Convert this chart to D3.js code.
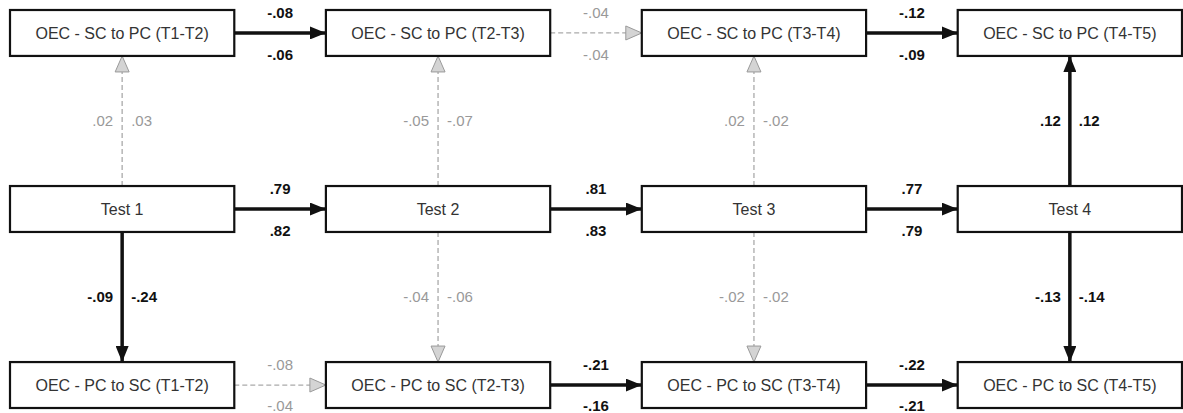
<!DOCTYPE html>
<html>
<head>
<meta charset="utf-8">
<script src="https://cdn.jsdelivr.net/npm/d3@7"></script>
<style>
  body { margin: 0; background: #fff; }
  text { font-family: "Liberation Sans", Arial, sans-serif; }
</style>
</head>
<body>
<div id="target"></div>
<script>
let width = 1183,
  height = 413

// waves / columns
let columns = ["T1", "T2", "T3", "T4"]
let rows = ["SC", "Test", "PC"]

let scLabels = ["OEC - SC to PC (T1-T2)", "OEC - SC to PC (T2-T3)", "OEC - SC to PC (T3-T4)", "OEC - SC to PC (T4-T5)"]
let testLabels = ["Test 1", "Test 2", "Test 3", "Test 4"]
let pcLabels = ["OEC - PC to SC (T1-T2)", "OEC - PC to SC (T2-T3)", "OEC - PC to SC (T3-T4)", "OEC - PC to SC (T4-T5)"]

// horizontal (autoregressive) paths: [upper value, lower value]
let scPaths = [[-.08, -.06], [-.04, -.04], [-.12, -.09]]
let scSig = [true, false, true]
let testPaths = [[.79, .82], [.81, .83], [.77, .79]]
let testSig = [true, true, true]
let pcPaths = [[-.08, -.04], [-.21, -.16], [-.22, -.21]]
let pcSig = [false, true, true]

// vertical paths: [left value, right value]
let upPaths = [[.02, .03], [-.05, -.07], [.02, -.02], [.12, .12]]
let upSig = [false, false, false, true]
let downPaths = [[-.09, -.24], [-.04, -.06], [-.02, -.02], [-.13, -.14]]
let downSig = [true, false, false, true]

let x = d3.scaleBand().domain(columns).range([10, 1182]).paddingInner(0.29)
let y = d3.scaleBand().domain(rows).range([10, 408]).paddingInner(0.739)

// ".08" style, plain hyphen for negatives
let fmt = v => d3.format(".2f")(v).replace("\u2212", "-").replace("0.", ".")

let svg = d3.select("#target").append("svg")
  .attr("width", width)
  .attr("height", height)

let defs = svg.append("defs")
defs.append("marker")
  .attr("id", "head-sig")
  .attr("markerUnits", "userSpaceOnUse")
  .attr("viewBox", "0 0 16 13")
  .attr("refX", 16).attr("refY", 6.5)
  .attr("markerWidth", 16).attr("markerHeight", 13)
  .attr("orient", "auto")
  .append("path")
  .attr("d", "M0,0L16,6.5L0,13Z")
  .attr("fill", "#111")
defs.append("marker")
  .attr("id", "head-ns")
  .attr("markerUnits", "userSpaceOnUse")
  .attr("viewBox", "-1 -1 18 16")
  .attr("refX", 16).attr("refY", 7)
  .attr("markerWidth", 18).attr("markerHeight", 16)
  .attr("orient", "auto")
  .append("path")
  .attr("d", "M0,0L16,7L0,14Z")
  .attr("fill", "#d4d4d4")
  .attr("stroke", "#999")
  .attr("stroke-width", 1)

let cx = c => x(c) + x.bandwidth() / 2
let cy = r => y(r) + y.bandwidth() / 2

function styleLine(sel, sig) {
  sel.attr("stroke", sig ? "#111" : "#aaa")
    .attr("stroke-width", sig ? 3.5 : 1.3)
    .attr("stroke-dasharray", sig ? null : "5,3")
    .attr("marker-end", sig ? "url(#head-sig)" : "url(#head-ns)")
}

function styleLabel(sel, sig) {
  sel.attr("fill", sig ? "#111" : "#999")
    .attr("font-weight", sig ? "bold" : "normal")
    .attr("font-size", "15px")
}

// horizontal arrows
let hData = []
;[["SC", scPaths, scSig], ["Test", testPaths, testSig], ["PC", pcPaths, pcSig]].forEach(([r, vals, sig]) => {
  vals.forEach((v, i) => hData.push({ row: r, from: columns[i], to: columns[i + 1], vals: v, sig: sig[i] }))
})

let hGroup = svg.append("g").attr("class", "h-paths")
hData.forEach(d => {
  let x1 = x(d.from) + x.bandwidth(),
    x2 = x(d.to),
    yy = cy(d.row),
    mx = (x1 + x2) / 2
  hGroup.append("line")
    .attr("x1", x1).attr("x2", x2)
    .attr("y1", yy).attr("y2", yy)
    .call(styleLine, d.sig)
  hGroup.append("text")
    .attr("x", mx).attr("y", yy - 15)
    .attr("text-anchor", "middle")
    .text(fmt(d.vals[0]))
    .call(styleLabel, d.sig)
  // keep the lower label inside the frame on the bottom row
  hGroup.append("text")
    .attr("x", mx).attr("y", Math.min(yy + 27, height - 2))
    .attr("text-anchor", "middle")
    .text(fmt(d.vals[1]))
    .call(styleLabel, d.sig)
})

// vertical arrows
let vGroup = svg.append("g").attr("class", "v-paths")
columns.forEach((c, i) => {
  let xx = cx(c)
  let specs = [
    { y1: y("Test"), y2: y("SC") + y.bandwidth(), vals: upPaths[i], sig: upSig[i] },
    { y1: y("Test") + y.bandwidth(), y2: y("PC"), vals: downPaths[i], sig: downSig[i] }
  ]
  specs.forEach(s => {
    let my = (s.y1 + s.y2) / 2
    vGroup.append("line")
      .attr("x1", xx).attr("x2", xx)
      .attr("y1", s.y1).attr("y2", s.y2)
      .call(styleLine, s.sig)
    vGroup.append("text")
      .attr("x", xx - 9).attr("y", my + 5)
      .attr("text-anchor", "end")
      .text(fmt(s.vals[0]))
      .call(styleLabel, s.sig)
    vGroup.append("text")
      .attr("x", xx + 9).attr("y", my + 5)
      .attr("text-anchor", "start")
      .text(fmt(s.vals[1]))
      .call(styleLabel, s.sig)
  })
})

// boxes
let boxData = []
columns.forEach((c, i) => {
  boxData.push({ col: c, row: "SC", label: scLabels[i] })
  boxData.push({ col: c, row: "Test", label: testLabels[i] })
  boxData.push({ col: c, row: "PC", label: pcLabels[i] })
})

let boxes = svg.append("g").attr("class", "boxes")
  .selectAll("g")
  .data(boxData)
  .enter().append("g")

boxes.append("rect")
  .attr("x", d => x(d.col))
  .attr("y", d => y(d.row))
  .attr("width", x.bandwidth())
  .attr("height", y.bandwidth())
  .attr("fill", "#fff")
  .attr("stroke", "#111")
  .attr("stroke-width", 2.2)

boxes.append("text")
  .attr("x", d => cx(d.col))
  .attr("y", d => cy(d.row) + 6)
  .attr("text-anchor", "middle")
  .attr("font-size", "16px")
  .attr("fill", "#333")
  .text(d => d.label)
</script>
</body>
</html>
